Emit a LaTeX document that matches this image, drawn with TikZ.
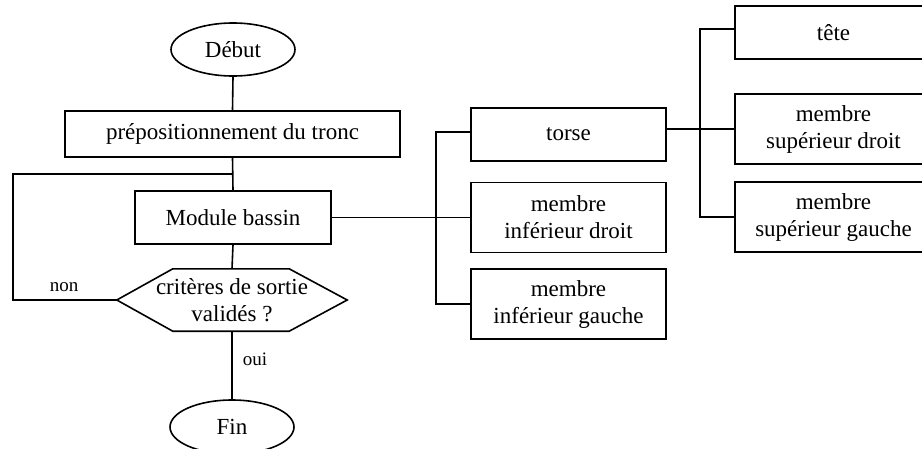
\documentclass[tikz,border=0pt]{standalone}
\usepackage{fontspec}
\setmainfont{Liberation Serif}
\usetikzlibrary{calc,shapes.geometric}
\begin{document}
\begin{tikzpicture}[x=1pt,y=-1pt,
  every node/.style={font=\fontsize{23}{27}\selectfont, align=center, inner sep=0pt},
  ln/.style={line width=1.6pt},
  box/.style={draw, line width=1.6pt},
  oval/.style={draw, ellipse, line width=1.6pt, minimum width=124pt},
  lbl/.style={font=\fontsize{19}{22}\selectfont}]
\useasboundingbox (0,0) rectangle (922,448);
\clip (0,0) rectangle (922,448);
% left flowchart
\node[oval, minimum height=53pt] (debut) at (233,49.5) {Début};
\node[box, minimum width=335pt, minimum height=46pt] (prep) at (232.5,134) {prépositionnement du tronc};
\node[box, minimum width=196pt, minimum height=53pt] (module) at (233,217.5) {Module bassin};
\node[minimum width=230pt, minimum height=62pt] (crit) at (232,300) {critères de sortie\\validés ?};
\draw[ln] (crit.west) -- ($(crit.north west)+(56,0)$) -- ($(crit.north east)+(-58,0)$) -- (crit.east)
  -- ($(crit.south east)+(-58,0)$) -- ($(crit.south west)+(56,0)$) -- cycle;
\node[oval, minimum height=54pt] (fin) at (232,427) {Fin};
\coordinate (loopc) at (13,174);
\draw[ln] (debut.south) -- (prep.north);
\draw[ln] (prep.south) -- (module.north);
\draw[ln] (crit.west) -| (loopc) -- (prep.south |- loopc);
\draw[ln] (module.south) -- (crit.north);
\draw[ln] (crit.south) -- (fin.north);
\node[lbl] (non) at (64,287) {non};
\node[lbl] (oui) at (255,359) {oui};
% middle column
\node[box, minimum width=195pt, minimum height=53pt] (torse) at (568.5,134.5) {torse};
\node[box, minimum width=195pt, minimum height=70pt] (infd) at (568.5,217.5) {membre\\inférieur droit};
\node[box, minimum width=195pt, minimum height=70pt] (infg) at (568.5,304) {membre\\inférieur gauche};
\coordinate (t1) at (436,217.5);
\draw[ln] (module.east) -- (infd.west);
\draw[ln] ([yshift=2.5pt]torse.west) -| (t1) |- (infg.west);
% right column
\node[box, minimum width=197pt, minimum height=53pt] (tete) at (833.5,32.5) {tête};
\node[box, minimum width=197pt, minimum height=70pt] (supd) at (833.5,129) {membre\\supérieur droit};
\node[box, minimum width=197pt, minimum height=70pt] (supg) at (833.5,217) {membre\\supérieur gauche};
\coordinate (t2) at (700,129);
\draw[ln] (torse.east |- supd.west) -- (supd.west);
\draw[ln] ([yshift=3.5pt]tete.west) -| (t2) |- (supg.west);
\end{tikzpicture}
\end{document}
